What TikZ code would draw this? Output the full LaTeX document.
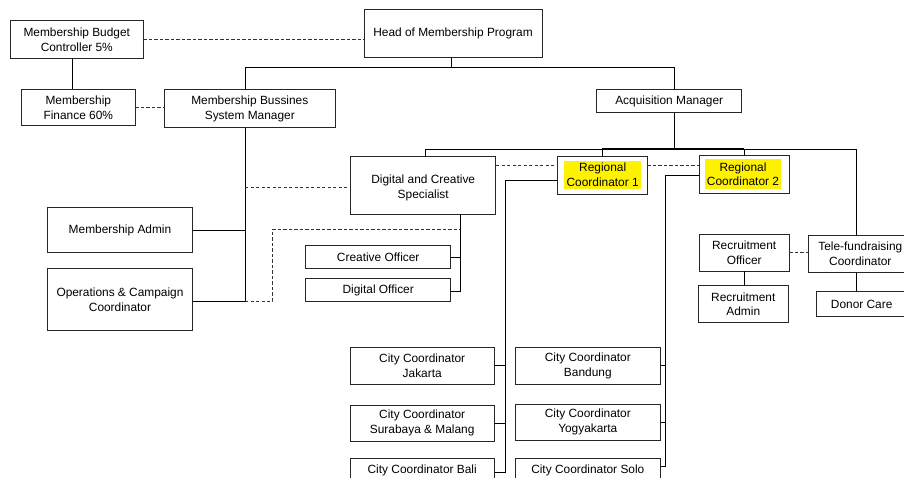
\documentclass[tikz,border=0pt]{standalone}
\usepackage{fontspec}
\setmainfont{Liberation Sans}
\usetikzlibrary{calc}
\begin{document}
\begin{tikzpicture}[x=1pt,y=-1pt,
  box/.style={draw=black!85,line width=0.8pt,inner sep=0pt,align=center,font=\fontsize{11.9}{14.9}\selectfont},
  txt/.style={inner sep=0pt,align=center,font=\fontsize{11.9}{14.9}\selectfont},
  hl/.style={fill=yellow,inner sep=0pt,align=center,font=\fontsize{11.9}{14.9}\selectfont},
  conn/.style={draw=black,line width=0.85pt},
  dconn/.style={draw=black!80,line width=0.85pt,dash pattern=on 3.3pt off 2.2pt}]
\fill[white] (0,0) rectangle (904,478);
\useasboundingbox (0,0) rectangle (904,478);
\clip (0,0) rectangle (904,478);
% nodes
\node[box,minimum width=178,minimum height=48] (head) at (453,33.3) {Head of Membership Program};
\node[box,minimum width=132.3,minimum height=38] (budget) at (76.8,39.7) {Membership Budget\\Controller 5\%};
\node[box,minimum width=113.3,minimum height=36] (finance) at (78.3,107.3) {Membership\\Finance 60\%};
\node[box,minimum width=171.7,minimum height=38.4] (bussines) at (249.8,108.5) {Membership Bussines\\System Manager};
\node[box,minimum width=145,minimum height=23.4] (acq) at (669.2,101) {Acquisition Manager};
\node[box,minimum width=145,minimum height=58] (digital) at (423.2,185) {};
\node[txt] (digitalt) at (423.2,188) {Digital and Creative\\Specialist};
\node[box,minimum width=89.3,minimum height=37.3] (rc1) at (602.3,175.3) {};
\node[hl,minimum width=76.7,minimum height=28.6] (rc1t) at (602.7,175) {Regional\\Coordinator 1};
\node[box,minimum width=89.7,minimum height=37.6] (rc2) at (744.2,174.5) {};
\node[hl,minimum width=76,minimum height=29.7] (rc2t) at (743,174.2) {Regional\\Coordinator 2};
\node[box,minimum width=144.6,minimum height=45.4] (admin) at (120,230) {Membership Admin};
\node[box,minimum width=144.6,minimum height=62.4] (ops) at (120,299.5) {Operations \& Campaign\\Coordinator};
\node[box,minimum width=145,minimum height=22.6] (creative) at (378.2,257) {Creative Officer};
\node[box,minimum width=145,minimum height=23.4] (digoff) at (378.2,290) {Digital Officer};
\node[box,minimum width=89.7,minimum height=36.7] (recoff) at (744.2,252.7) {Recruitment\\Officer};
\node[box,minimum width=104,minimum height=36.6] (tele) at (860.3,254) {Tele-fundraising\\Coordinator};
\node[box,minimum width=90,minimum height=37] (recadm) at (743.3,304.2) {Recruitment\\Admin};
\node[box,minimum width=90,minimum height=25] (donor) at (861.7,304.2) {Donor Care};
\node[box,minimum width=144.3,minimum height=36.7] (jakarta) at (422.2,365.7) {City Coordinator\\Jakarta};
\node[box,minimum width=144.3,minimum height=36] (surabaya) at (422.2,423) {City Coordinator\\Surabaya \& Malang};
\node[box,minimum width=144.3,minimum height=24] (bali) at (422.2,470.3) {City Coordinator Bali};
\node[box,minimum width=145.7,minimum height=36.7] (bandung) at (587.8,365.7) {City Coordinator\\Bandung};
\node[box,minimum width=145.7,minimum height=36] (yogya) at (587.8,422) {City Coordinator\\Yogyakarta};
\node[box,minimum width=145.7,minimum height=24] (solo) at (587.8,470.3) {City Coordinator Solo};
% junction coordinates
\coordinate (cA) at (72,0);
\coordinate (topM) at (451,67.3);
\coordinate (topL) at (245,67.3);
\coordinate (topR) at (674.3,67.3);
\coordinate (spL) at (245,301);
\coordinate (dq) at (272.7,229.3);
\coordinate (dr) at (460,229.3);
\coordinate (dv) at (460,291.7);
\coordinate (acqB) at (674.3,149.3);
\coordinate (hL) at (425,149.3);
\coordinate (hR) at (856.7,149.3);
\coordinate (dy) at (0,165.7);
\coordinate (dz) at (0,187.3);
\coordinate (v1) at (505.5,180);
\coordinate (v1b) at (505.5,472.7);
\coordinate (v2) at (665.5,175);
\coordinate (v2b) at (665.5,466.7);
% connectors
\draw[dconn] (budget.east) -- (budget.east -| head.west);
\draw[conn] (budget.south -| cA) -- (finance.north -| cA);
\draw[dconn] (finance.east) -- (finance.east -| bussines.west);
\draw[conn] (head.south -| topM) -- (topM);
\draw[conn] (bussines.north -| topL) -- (topL) -- (topR) -- (acq.north -| topR);
\draw[conn] (bussines.south -| spL) -- (spL) -- (spL -| ops.east);
\draw[conn] (admin.east) -- (admin.east -| spL);
\draw[dconn] (spL |- dz) -- (digital.west |- dz);
\draw[dconn] (spL) -- (spL -| dq) -- (dq) -- (dr);
\draw[conn] (digital.south -| dv) -- (dv) -- (dv -| digoff.east);
\draw[conn] (creative.east) -- (creative.east -| dv);
\draw[conn] (acq.south -| acqB) -- (acqB);
\draw[conn] (digital.north -| hL) -- (hL) -- (hR) -- (tele.north -| hR);
\draw[conn,line width=2pt] (rc1.north |- hL) -- (rc2.north |- hL);
\draw[conn] (rc1.north) -- (rc1.north |- hL);
\draw[conn] (rc2.north) -- (rc2.north |- hL);
\draw[dconn] (digital.east |- dy) -- (rc1.west |- dy);
\draw[dconn] (rc1.east |- dy) -- (rc2.west |- dy);
\draw[conn] (rc1.west |- v1) -- (v1) -- (v1b) -- (v1b -| bali.east);
\draw[conn] (jakarta.east) -- (jakarta.east -| v1);
\draw[conn] (surabaya.east) -- (surabaya.east -| v1);
\draw[conn] (rc2.west |- v2) -- (v2) -- (v2b) -- (v2b -| solo.east);
\draw[conn] (bandung.east) -- (bandung.east -| v2);
\draw[conn] (yogya.east) -- (yogya.east -| v2);
\draw[conn] (recoff.south) -- (recoff.south |- recadm.north);
\draw[dconn] (recoff.east) -- (recoff.east -| tele.west);
\draw[conn] (tele.south -| hR) -- (donor.north -| hR);
\end{tikzpicture}
\end{document}
